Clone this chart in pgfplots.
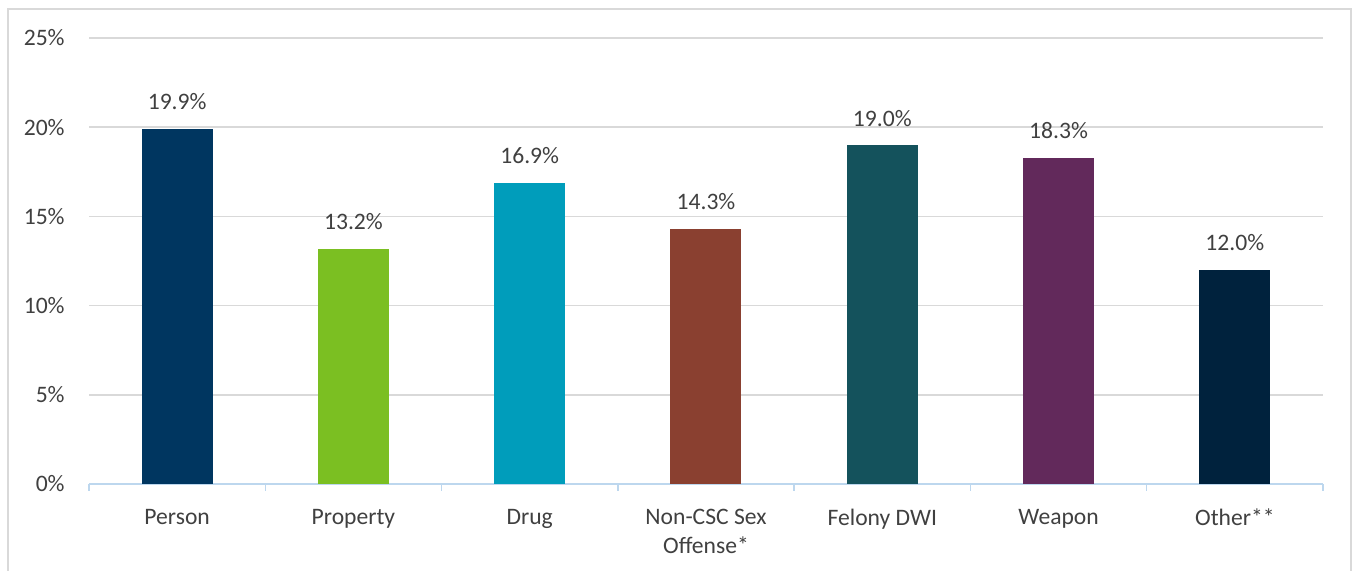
\documentclass[border=0pt]{standalone}
\usepackage{pgfplots}
\pgfplotsset{compat=1.18}
\usepackage{fontspec}
\setmainfont{Carlito}
\definecolor{txt}{HTML}{404040}
\definecolor{gridc}{HTML}{D9D9D9}
\definecolor{axc}{HTML}{BDD7EE}
\definecolor{c1}{HTML}{003660}
\definecolor{c2}{HTML}{7BBF22}
\definecolor{c3}{HTML}{009DBB}
\definecolor{c4}{HTML}{8A4030}
\definecolor{c5}{HTML}{14525C}
\definecolor{c6}{HTML}{62295B}
\definecolor{c7}{HTML}{00223D}
\newcommand\lbl{\fontsize{11.8bp}{14.5bp}\selectfont}
\begin{document}
\begin{tikzpicture}
\useasboundingbox (0,0) rectangle (676.5bp,285.5bp);
\draw[gridc, line width=0.75bp] (4bp,-2bp) -- (4bp,281bp) -- (675.4bp,281bp) -- (675.4bp,-2bp);
\begin{axis}[
 at={(44.5bp,43.5bp)}, anchor=south west,
 scale only axis, width=617bp, height=223bp,
 xmin=-0.5, xmax=6.5, ymin=0, ymax=25,
 ybar, bar width=35.5bp, bar shift=0pt,
 axis x line*=bottom, axis y line*=left,
 y axis line style={draw=none},
 x axis line style={draw=axc, line width=0.75bp},
 ytick={0,5,...,25}, yticklabel={\pgfmathprintnumber{\tick}\%},
 ymajorgrids, grid style={gridc, line width=0.75bp},
 major y tick style={draw=none},
 xtick={0,...,6},
 xticklabels={Person,Property,Drug,{Non-CSC Sex\\Offense*},Felony DWI,Weapon,Other**},
 major x tick style={draw=none},
 extra x ticks={-0.5,0.5,1.5,2.5,3.5,4.5,5.5,6.5}, extra x tick labels={},
 extra x tick style={major tick length=3.5bp, tick align=outside, major x tick style={draw=axc, line width=0.75bp}, grid=none},
 /pgf/number format/assume math mode=true,
 every tick label/.append style={font=\lbl, text=txt, inner sep=0pt},
 xticklabel style={align=center, anchor=north, yshift=-8bp},
 yticklabel style={anchor=east, xshift=-12bp},
 every axis plot/.append style={draw=none},
 nodes near coords={\pgfmathprintnumber[fixed,fixed zerofill,precision=1]{\pgfplotspointmeta}\%},
 nodes near coords style={font=\lbl, text=txt, anchor=base, yshift=9.5bp, inner sep=0pt},
]
\addplot[fill=c1] coordinates {(0,19.9)};
\addplot[fill=c2] coordinates {(1,13.2)};
\addplot[fill=c3] coordinates {(2,16.9)};
\addplot[fill=c4] coordinates {(3,14.3)};
\addplot[fill=c5] coordinates {(4,19.0)};
\addplot[fill=c6] coordinates {(5,18.3)};
\addplot[fill=c7] coordinates {(6,12.0)};
\end{axis}
\end{tikzpicture}
\end{document}
